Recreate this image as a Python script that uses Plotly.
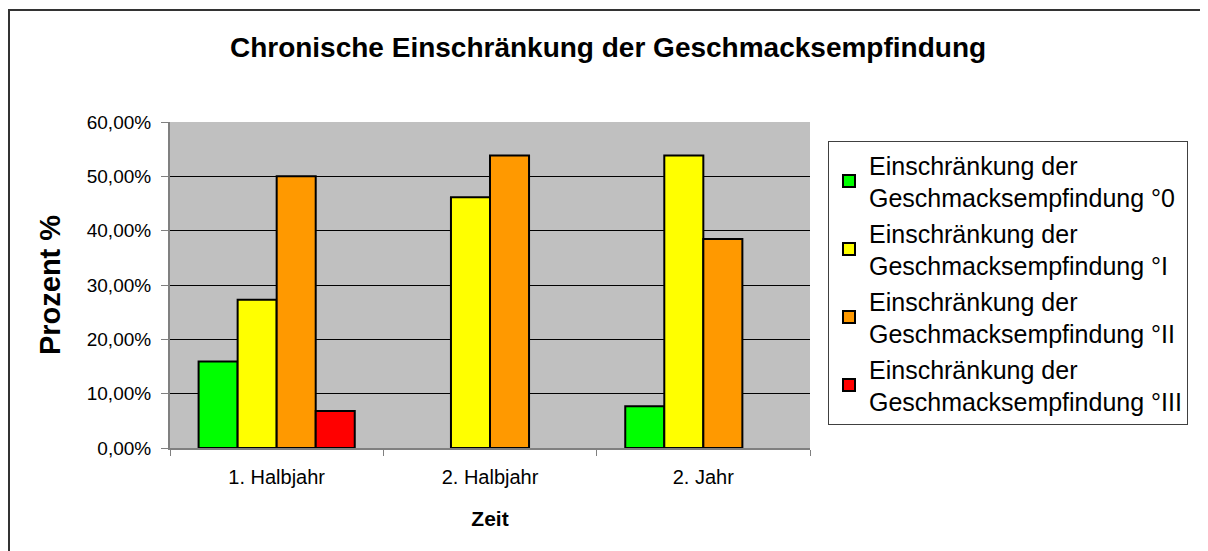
import plotly.graph_objects as go

# Daten aus dem Diagramm (Anteile)
zeiten = ['1. Halbjahr', '2. Halbjahr', '2. Jahr']
grad_0 = [7 / 44, None, 1 / 13]
grad_1 = [12 / 44, 6 / 13, 7 / 13]
grad_2 = [22 / 44, 7 / 13, 5 / 13]
grad_3 = [3 / 44, None, None]

serien = [
    ('Einschränkung der<br>Geschmacksempfindung °0', grad_0, '#00FF00'),
    ('Einschränkung der<br>Geschmacksempfindung °I', grad_1, '#FFFF00'),
    ('Einschränkung der<br>Geschmacksempfindung °II', grad_2, '#FF9900'),
    ('Einschränkung der<br>Geschmacksempfindung °III', grad_3, '#FF0000'),
]

fig = go.Figure()
for name, werte, farbe in serien:
    fig.add_trace(go.Bar(
        x=zeiten, y=werte, name=name,
        marker=dict(color=farbe, line=dict(color='black', width=2)),
    ))

# die Seite hat 8px Rand, also alles um 8px nach links/oben
W, H = 1208, 551
L, R, T, B = 162, 802, 114, 440
pw, ph = R - L, B - T

font = 'Liberation Sans, Arial, sans-serif'
fig.update_layout(
    width=W, height=H,
    margin=dict(l=L, r=W - R, t=T, b=H - B),
    paper_bgcolor='white',
    plot_bgcolor='#C0C0C0',
    barmode='group', bargap=0.268, bargroupgap=0,
    separators=',.',
    font=dict(family=font, color='black', size=19),
    title=dict(text='<b>Chronische Einschränkung der Geschmacksempfindung</b>',
               x=600 / W, xanchor='center', y=1 - 39 / H, yanchor='middle',
               font=dict(size=28, family=font, color='black')),
    legend=dict(x=(820 - L) / pw, xanchor='left', y=(B - 133) / ph, yanchor='top',
                bordercolor='#404040', borderwidth=1, bgcolor='white',
                font=dict(size=25, family=font), traceorder='normal'),
    showlegend=True,
)
fig.update_xaxes(
    type='category', tickson='boundaries', ticks='outside', ticklen=6,
    tickcolor='#808080', showline=True, linecolor='#808080', linewidth=2,
    showgrid=False, tickfont=dict(size=20), ticklabelstandoff=10,
    title=dict(text='<b>Zeit</b>', font=dict(size=21), standoff=24),
)
fig.update_yaxes(
    range=[0, 0.6], dtick=0.1, tickformat='.2%', ticks='outside', ticklen=7,
    tickcolor='#808080', showline=True, linecolor='#808080', linewidth=2,
    showgrid=True, gridcolor='black', gridwidth=1, zeroline=False,
    tickfont=dict(size=19), ticklabelstandoff=6,
    title=dict(text='<b>Prozent %</b>', font=dict(size=29), standoff=18),
)

# Rahmen um das gesamte Diagramm
fig.add_shape(type='rect', xref='paper', yref='paper',
              x0=(1 - L) / pw, x1=(W + 30 - L) / pw,
              y0=(B - H - 30) / ph, y1=(B - 2) / ph,
              line=dict(color='#333333', width=2), layer='below')

fig.write_html('out.html')
